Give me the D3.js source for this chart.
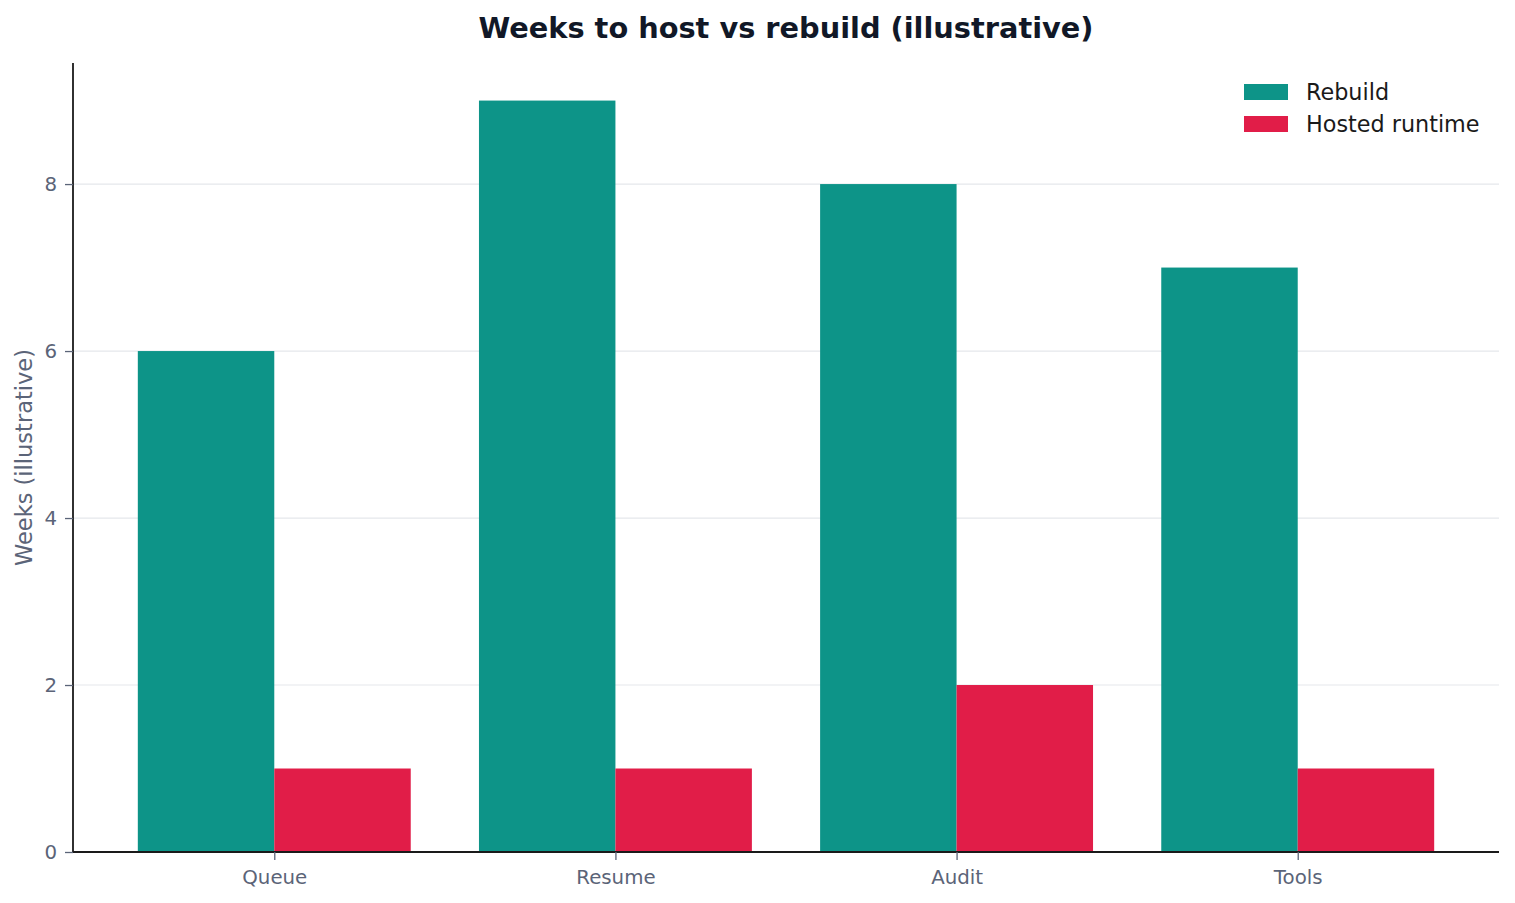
<!DOCTYPE html>
<html>
<head>
<meta charset="utf-8">
<script src="https://cdn.jsdelivr.net/npm/d3@7"></script>
<style>
  body { margin: 0; background: #fff; }
  svg text { font-family: "DejaVu Sans", sans-serif; }
</style>
</head>
<body>
<div id="chart"></div>
<script>
// data
const categories = ["Queue", "Resume", "Audit", "Tools"];
const rebuildWeeks = [6, 9, 8, 7];
const hostedWeeks = [1, 1, 2, 1];
const seriesNames = ["Rebuild", "Hosted runtime"];
const seriesColors = ["#0d9488", "#e11d48"];
const yTicks = [0, 2, 4, 6, 8];

const W = 1515, H = 903;
const margin = { top: 63, right: 16, bottom: 51, left: 73 };
const width = W - margin.left - margin.right,
  height = H - margin.top - margin.bottom;
const barW = 0.4;

const svg = d3.select("#chart").append("svg")
  .attr("width", W).attr("height", H);

const g = svg.append("g")
  .attr("transform", "translate(" + margin.left + "," + margin.top + ")");

// x in category-index units, like matplotlib's bar positions
const x = d3.scaleLinear()
  .domain([-0.59, categories.length - 1 + 0.59])
  .range([0, width]);
const y = d3.scaleLinear()
  .domain([0, d3.max(rebuildWeeks.concat(hostedWeeks)) * 1.05])
  .range([height, 0]);

// gridlines
g.selectAll(".grid")
  .data(yTicks.filter((d) => d > 0))
  .join("line")
  .attr("class", "grid")
  .attr("x1", 0).attr("x2", width)
  .attr("y1", (d) => y(d)).attr("y2", (d) => y(d))
  .attr("stroke", "#e5e7eb").attr("stroke-width", 1.2);

// bars
const series = [rebuildWeeks, hostedWeeks];
series.forEach((vals, s) => {
  g.selectAll(".bar-" + s)
    .data(vals)
    .join("rect")
    .attr("class", "bar-" + s)
    .attr("x", (d, i) => x(i + (s === 0 ? -barW : 0)))
    .attr("width", x(barW) - x(0))
    .attr("y", (d) => y(d))
    .attr("height", (d) => y(0) - y(d))
    .attr("fill", seriesColors[s]);
});

// axes
const yAxis = g.append("g")
  .call(d3.axisLeft(y).tickValues(yTicks).tickSize(8).tickPadding(8).tickFormat(d3.format("d")));
const xAxis = g.append("g")
  .attr("transform", "translate(0," + height + ")")
  .call(d3.axisBottom(x).tickValues(d3.range(categories.length)).tickSize(8).tickPadding(10)
    .tickFormat((i) => categories[i]));

[xAxis, yAxis].forEach((ax) => {
  ax.select(".domain").attr("stroke", "#1a1a1a").attr("stroke-width", 1.8);
  ax.selectAll(".tick line").attr("stroke", "#5b6478").attr("stroke-width", 1.3);
  ax.selectAll(".tick text").attr("fill", "#5b6478").style("font-size", "19.8px");
});
// keep only the left and bottom spines
yAxis.select(".domain").attr("d", "M0," + height + "V0");
xAxis.select(".domain").attr("d", "M0,0H" + width);

// y label
g.append("text")
  .attr("transform", "rotate(-90)")
  .attr("x", -height / 2)
  .attr("y", -margin.left + 32)
  .attr("text-anchor", "middle")
  .attr("fill", "#5b6478")
  .style("font-size", "22.5px")
  .text("Weeks (illustrative)");

// title
svg.append("text")
  .attr("x", margin.left + width / 2)
  .attr("y", 38)
  .attr("text-anchor", "middle")
  .attr("fill", "#111827")
  .style("font-size", "28.8px")
  .style("font-weight", "bold")
  .text("Weeks to host vs rebuild (illustrative)");

// legend
const legend = svg.append("g").attr("transform", "translate(1244,84)");
const item = legend.selectAll(".item")
  .data(seriesNames)
  .join("g")
  .attr("class", "item")
  .attr("transform", (d, i) => "translate(0," + i * 32 + ")");
item.append("rect")
  .attr("width", 44).attr("height", 16)
  .attr("fill", (d, i) => seriesColors[i]);
item.append("text")
  .attr("x", 62).attr("y", 16)
  .attr("fill", "#1a1a1a")
  .style("font-size", "22.3px")
  .text((d) => d);
</script>
</body>
</html>
